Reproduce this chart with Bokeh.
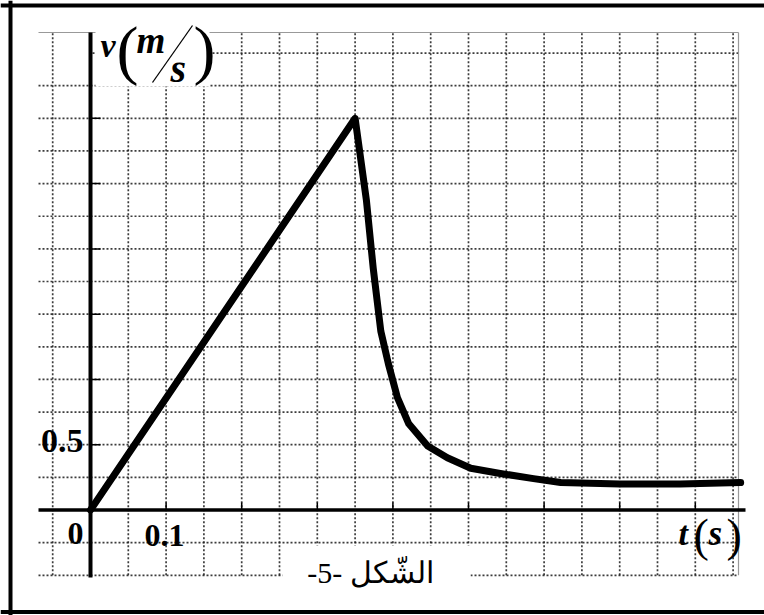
from bokeh.plotting import figure
from bokeh.models import Range1d, BoxAnnotation, Span
from bokeh.core.properties import value
from bokeh.embed import file_html
from bokeh.resources import INLINE

# ---- data ----
t_vals = [0.0, 0.35, 0.365, 0.374, 0.384, 0.394, 0.406, 0.421, 0.446, 0.472,
          0.503, 0.542, 0.586, 0.622, 0.70, 0.78, 0.86]
v_vals = [0.0, 3.0, 2.37, 1.85, 1.37, 1.12, 0.86, 0.66, 0.49, 0.40,
          0.32, 0.28, 0.24, 0.21, 0.20, 0.20, 0.21]

x_grid_ticks = [-0.05, 0.05, 0.10, 0.15, 0.20, 0.25, 0.30, 0.35, 0.40, 0.45,
                0.50, 0.55, 0.60, 0.65, 0.70, 0.75, 0.80, 0.85]
y_grid_ticks = [-0.5, -0.25, 0.25, 0.5, 0.75, 1.0, 1.25, 1.5, 1.75, 2.0,
                2.25, 2.5, 2.75, 3.0, 3.25, 3.5]
x_tick_marks = [0.1, 0.2, 0.3, 0.4, 0.5, 0.6, 0.7, 0.8]
y_tick_marks = [0.5, 1.0, 1.5, 2.0, 2.5, 3.0]

# ---- pixel <-> data helpers (pixels of the reference picture) ----
X0, PX_T = 90.0, 37.8 / 0.05
Y0, PX_V = 509.5, 32.64 / 0.25


def tx(px):
    return (px - X0) / PX_T


def vy(py):
    return (Y0 - py) / PX_V


W, H = 764, 615
p = figure(width=W, height=H, output_backend="svg", toolbar_location=None,
           x_range=Range1d(tx(0), tx(W)), y_range=Range1d(vy(H), vy(0)),
           x_axis_type=None, y_axis_type=None, min_border=0)
p.background_fill_color = "white"
p.border_fill_color = "white"
p.outline_line_color = None

grid_kw = dict(line_color="#1a1a1a", line_width=1.7, line_dash="2 2", line_alpha=0.85)
grid_left, grid_right = tx(38), tx(738)
grid_bottom, grid_top = -0.5, vy(32)

# vertical dotted lines
r = p.segment(x0=x_grid_ticks, y0=[grid_bottom] * len(x_grid_ticks),
              x1=x_grid_ticks, y1=[grid_top] * len(x_grid_ticks), **grid_kw)
r.level = "image"
# horizontal dotted lines (the top one only right of the v axis)
hx0 = [grid_left if yv < 3.5 else tx(92) for yv in y_grid_ticks]
r = p.segment(x0=hx0, y0=y_grid_ticks, x1=[grid_right] * len(y_grid_ticks),
              y1=y_grid_ticks, **grid_kw)
r.level = "image"
# thin frame lines of the graph paper
r = p.segment(x0=[grid_left, grid_right], y0=[grid_top, grid_top],
              x1=[grid_right, grid_right], y1=[grid_top, grid_bottom],
              line_color="#999999", line_width=1.2)
r.level = "image"

# white patches behind the labels
for l, r_, t_, b_ in [(95, 209, 14, 86), (282, 470, 545, 600)]:
    p.add_layout(BoxAnnotation(left=tx(l), right=tx(r_), top=vy(t_), bottom=vy(b_),
                               fill_color="white", fill_alpha=1.0, line_alpha=0,
                               level="underlay"))

# outer frame (left, top, bottom)
p.add_layout(Span(location=tx(10), dimension="height", line_color="black", line_width=4))
p.add_layout(Span(location=vy(5), dimension="width", line_color="black", line_width=4))
p.add_layout(Span(location=vy(611.5), dimension="width", line_color="black", line_width=4))

# axes
p.segment(x0=[tx(38)], y0=[0], x1=[tx(745)], y1=[0], line_color="black", line_width=3.5)
p.segment(x0=[0], y0=[vy(577)], x1=[0], y1=[vy(32)], line_color="black", line_width=4)
# tick marks
p.segment(x0=x_tick_marks, y0=[0] * len(x_tick_marks), x1=x_tick_marks,
          y1=[vy(502)] * len(x_tick_marks), line_color="black", line_width=1.5)
p.segment(x0=[0] * len(y_tick_marks), y0=y_tick_marks, x1=[tx(100)] * len(y_tick_marks),
          y1=y_tick_marks, line_color="black", line_width=1.5)

# curve
p.line(t_vals, v_vals, line_color="black", line_width=7, line_join="round", line_cap="round")

serif = value("Liberation Serif")
SHIFT = 0.35  # compensation (in em) for the text box offset


def txt(x, y, s, size, style="bold", align="left", font=serif):
    px = float(size.replace("px", ""))
    p.text(x=[tx(x)], y=[vy(y - SHIFT * px)], text=[s], text_font=font,
           text_font_size=size, text_font_style=style, text_align=align,
           text_baseline="alphabetic", text_color="black")


# tick labels
txt(83, 452, "0.5", "34px", align="right")
txt(83, 544, "0", "32px", align="right")
txt(144, 546, "0.1", "32px")

# t(s)
txt(678, 545, "t", "34px", style="bold italic")
txt(693, 551, "(", "46px", style="normal")
txt(708, 545, "s", "35px", style="bold italic")
txt(726, 551, ")", "46px", style="normal")

# v(m/s)
txt(100, 57, "v", "34px", style="bold italic")
txt(116, 72, "(", "66px", style="normal")
txt(136, 53, "m", "37px", style="bold italic")
p.segment(x0=[tx(152)], y0=[vy(82)], x1=[tx(192)], y1=[vy(25)], line_color="black", line_width=1.3)
txt(170, 82, "s", "40px", style="bold italic")
txt(193, 72, ")", "66px", style="normal")

# caption
txt(370, 582, "-5- الشّكل", "30px", style="normal", align="center")

open("out.html", "w").write(file_html(p, INLINE))
